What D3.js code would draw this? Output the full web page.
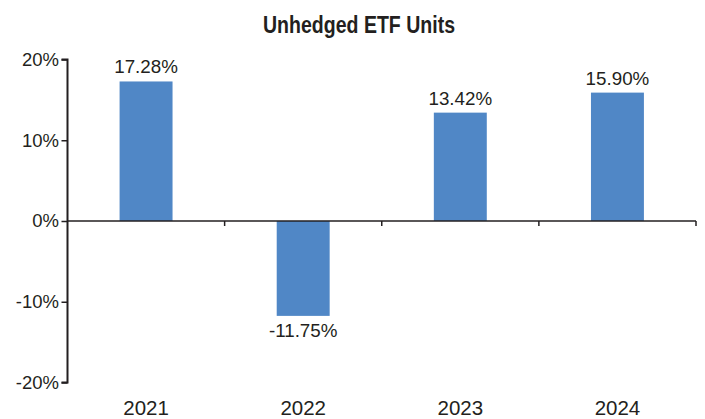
<!DOCTYPE html>
<html>
<head>
<meta charset="utf-8">
<script src="https://cdn.jsdelivr.net/npm/d3@7"></script>
<style>
  body { margin: 0; background: #fff; }
  svg text { font-family: Arial, "Liberation Sans", sans-serif; fill: #231f20; }
</style>
</head>
<body>
<svg id="chart" width="705" height="419"></svg>
<script>
var years = ["2021", "2022", "2023", "2024"];
var returns = [17.28, -11.75, 13.42, 15.90];
var yTicks = [20, 10, 0, -10, -20];

var svg = d3.select('#chart');
var plotLeft = 67.5, plotRight = 696, plotTop = 59.5, plotBottom = 382.5;

let xScale = d3.scaleBand().domain(years).range([plotLeft, plotRight]).paddingInner(0.663).paddingOuter(0.3315);
let xTicks = d3.scaleBand().domain(years).range([plotLeft, plotRight]);
let yScale = d3.scaleLinear().domain([20, -20]).range([plotTop, plotBottom]);

// title (condensed bold)
svg.append('text')
    .attr('x', 359).attr('y', 33)
    .attr('text-anchor', 'middle')
    .attr('textLength', 192)
    .attr('lengthAdjust', 'spacingAndGlyphs')
    .style('font-weight', 'bold')
    .style('font-size', '23px')
    .text('Unhedged ETF Units');

// bars
svg.selectAll('.bar')
    .data(returns)
    .enter()
    .append('rect')
    .attr('class', 'bar')
    .attr('x', (d, i) => xScale(years[i]))
    .attr('width', xScale.bandwidth())
    .attr('y', d => yScale(Math.max(d, 0)))
    .attr('height', d => Math.abs(yScale(d) - yScale(0)))
    .attr('fill', '#5087c6');

// value labels
svg.selectAll('.val')
    .data(returns)
    .enter()
    .append('text')
    .attr('class', 'val')
    .attr('x', (d, i) => xScale(years[i]) + xScale.bandwidth() / 2)
    .attr('y', d => d >= 0 ? yScale(d) - 8 : yScale(d) + 21)
    .attr('text-anchor', 'middle')
    .style('font-size', '18.8px')
    .text(d => d.toFixed(2) + '%');

// y axis
let axisLeft = d3.axisLeft(yScale).tickValues(yTicks).tickSize(6).tickFormat(d => d + '%');
const gy = svg.append('g').attr('transform', 'translate(' + plotLeft + ',0)').call(axisLeft);
gy.select('.domain').attr('stroke', '#231f20').attr('stroke-width', 2).attr('d', 'M-6,' + plotTop + 'H0V' + plotBottom + 'H-6');
gy.selectAll('.tick line').attr('stroke', '#231f20').attr('stroke-width', 1.5);
gy.selectAll('.tick text').attr('x', -8.5).style('font-size', '18.5px').style('font-family', 'Arial, "Liberation Sans", sans-serif').attr('fill', '#231f20');

// x axis line at zero with category separators
let axisBottom = d3.axisBottom(xTicks).tickSize(0).tickFormat('');
const gx = svg.append('g').attr('transform', 'translate(0,' + yScale(0) + ')').call(axisBottom);
gx.select('.domain').attr('stroke', '#231f20').attr('stroke-width', 1.5).attr('d', 'M' + plotLeft + ',0H' + plotRight);
gx.selectAll('.tick').remove();
gx.selectAll('.sep')
    .data(years)
    .enter()
    .append('line')
    .attr('class', 'sep')
    .attr('x1', d => xTicks(d) + xTicks.bandwidth())
    .attr('x2', d => xTicks(d) + xTicks.bandwidth())
    .attr('y1', 0).attr('y2', 5)
    .attr('stroke', '#231f20').attr('stroke-width', 1.5);

// year labels at bottom
svg.selectAll('.year')
    .data(years)
    .enter()
    .append('text')
    .attr('class', 'year')
    .attr('x', d => xTicks(d) + xTicks.bandwidth() / 2)
    .attr('y', 415)
    .attr('text-anchor', 'middle')
    .style('font-size', '20.5px')
    .text(d => d);
</script>
</body>
</html>
